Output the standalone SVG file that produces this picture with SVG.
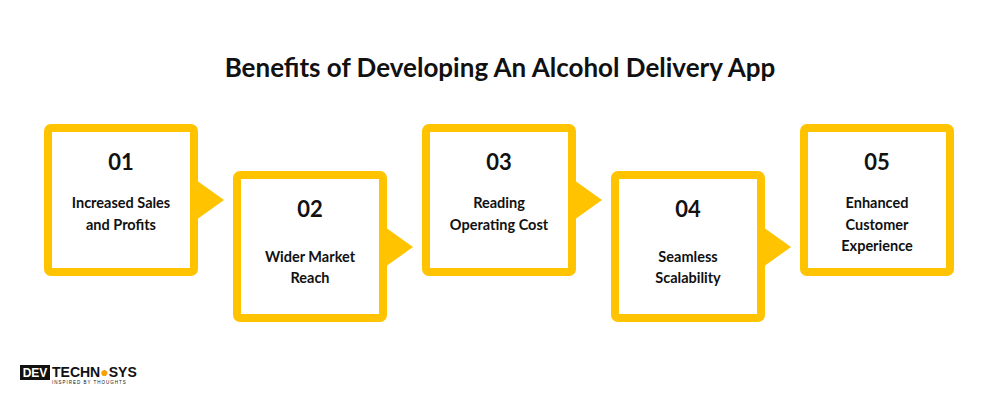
<svg xmlns="http://www.w3.org/2000/svg" width="1000" height="400" viewBox="0 0 1000 400">
<style>
.box{fill:#fff;stroke:#FFC300;stroke-width:8}
.tri{fill:#FFC300}
.num{font-family:"Lato","Liberation Sans",sans-serif;font-weight:bold;font-size:22px;fill:#111;text-anchor:middle}
.lbl{font-family:"Lato","Liberation Sans",sans-serif;font-weight:bold;font-size:14.5px;fill:#111;text-anchor:middle}
.title{font-family:"Lato","Liberation Sans",sans-serif;font-weight:bold;font-size:26px;fill:#111;text-anchor:middle}
</style>
<rect width="1000" height="400" fill="#fff"/>
<text class="title" x="500" y="77">Benefits of Developing An Alcohol Delivery App</text>
<g id="connectors">
<polygon class="tri" points="196,180 224,200 196,220"/>
<polygon class="tri" points="385,227 413,247 385,267"/>
<polygon class="tri" points="574,180 602,200 574,220"/>
<polygon class="tri" points="763,227 791,247 763,267"/>
</g>
<g id="n1"><rect class="box" x="48" y="128" width="146" height="144" rx="3"/>
<text class="num" x="121" y="170">01</text>
<text class="lbl" x="121" y="208">Increased Sales</text><text class="lbl" x="121" y="230">and Profits</text></g>
<g id="n2"><rect class="box" x="237" y="175" width="146" height="143" rx="3"/>
<text class="num" x="310" y="217">02</text>
<text class="lbl" x="310" y="262">Wider Market</text><text class="lbl" x="310" y="283">Reach</text></g>
<g id="n3"><rect class="box" x="426" y="128" width="146" height="144" rx="3"/>
<text class="num" x="499" y="170">03</text>
<text class="lbl" x="499" y="208">Reading</text><text class="lbl" x="499" y="230">Operating Cost</text></g>
<g id="n4"><rect class="box" x="615" y="175" width="146" height="143" rx="3"/>
<text class="num" x="688" y="217">04</text>
<text class="lbl" x="688" y="262">Seamless</text><text class="lbl" x="688" y="283">Scalability</text></g>
<g id="n5"><rect class="box" x="804" y="128" width="146" height="144" rx="3"/>
<text class="num" x="877" y="170">05</text>
<text class="lbl" x="877" y="208">Enhanced</text><text class="lbl" x="877" y="230">Customer</text><text class="lbl" x="877" y="251">Experience</text></g>
<g id="logo">
<rect x="20" y="365" width="30" height="15" fill="#111"/>
<text x="35" y="377" font-family="Liberation Sans,sans-serif" font-weight="bold" font-size="12" fill="#fff" text-anchor="middle">DEV</text>
<text x="52" y="377" font-family="Liberation Sans,sans-serif" font-weight="bold" font-size="14" fill="#111">TECHN<tspan fill="#F5A300">●</tspan>SYS</text>
<text x="52" y="384" font-family="Liberation Sans,sans-serif" font-size="4.5" fill="#111" letter-spacing="1">INSPIRED BY THOUGHTS</text>
</g>
</svg>
